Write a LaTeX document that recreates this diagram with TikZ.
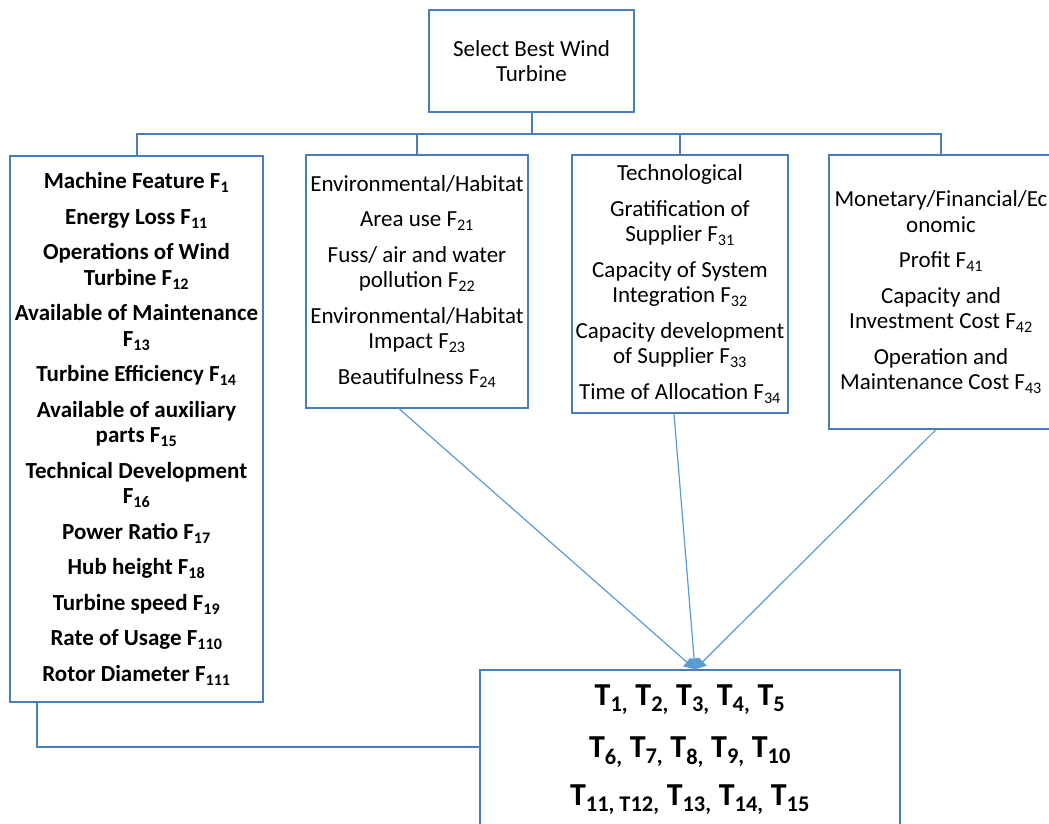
\documentclass[tikz,border=0pt]{standalone}
\usepackage{fontspec}
\setmainfont{Carlito}
\usetikzlibrary{arrows.meta}
\definecolor{boxblue}{HTML}{4A7EBB}
\definecolor{arrblue}{HTML}{5B9BD5}
\begin{document}
\begin{tikzpicture}[x=1pt,y=-1pt,
  box/.style={draw=boxblue, line width=1.3pt, rectangle, align=center, inner sep=1pt,
              font=\fontsize{23}{25.5}\selectfont},
  boldtext/.style={font=\fontsize{23}{25.5}\selectfont\bfseries},
  bigtext/.style={font=\fontsize{32}{48}\selectfont\bfseries},
  bus/.style={draw=boxblue, line width=2pt},
  arr/.style={draw=arrblue, line width=1.2pt, -{Triangle[length=11pt,width=11pt]}}]
\clip (0,0) rectangle (1049,824);
\useasboundingbox (0,0) rectangle (1049,824);

\node[box, minimum width=205pt, minimum height=102pt] (top) at (531.5,61)
  {Select Best Wind\\Turbine};

\node[box, boldtext, minimum width=253pt, minimum height=546pt] (mach) at (136.5,429)
  {Machine Feature F\textsubscript{1}\\[10pt]
   Energy Loss F\textsubscript{11}\\[10pt]
   Operations of Wind\\ Turbine F\textsubscript{12}\\[10pt]
   Available of Maintenance\\ F\textsubscript{13}\\[10pt]
   Turbine Efficiency F\textsubscript{14}\\[10pt]
   Available of auxiliary\\ parts F\textsubscript{15}\\[10pt]
   Technical Development\\ F\textsubscript{16}\\[10pt]
   Power Ratio F\textsubscript{17}\\[10pt]
   Hub height F\textsubscript{18}\\[10pt]
   Turbine speed F\textsubscript{19}\\[10pt]
   Rate of Usage F\textsubscript{110}\\[10pt]
   Rotor Diameter F\textsubscript{111}};

\node[box, minimum width=222pt, minimum height=253pt] (env) at (417,281.5)
  {Environmental/Habitat\\[10pt]
   Area use F\textsubscript{21}\\[10pt]
   Fuss/ air and water\\ pollution F\textsubscript{22}\\[10pt]
   Environmental/Habitat\\ Impact F\textsubscript{23}\\[10pt]
   Beautifulness F\textsubscript{24}};

\node[box, minimum width=216pt, minimum height=258pt] (tech) at (680,284)
  {Technological\\[10pt]
   Gratification of\\ Supplier F\textsubscript{31}\\[10pt]
   Capacity of System\\ Integration F\textsubscript{32}\\[10pt]
   Capacity development\\ of Supplier F\textsubscript{33}\\[10pt]
   Time of Allocation F\textsubscript{34}};

\node[box, minimum width=224pt, minimum height=274pt] (mon) at (941,292)
  {Monetary/Financial/Ec\\ onomic\\[10pt]
   Profit F\textsubscript{41}\\[10pt]
   Capacity and\\ Investment Cost F\textsubscript{42}\\[10pt]
   Operation and\\ Maintenance Cost F\textsubscript{43}};

\node[box, bigtext, minimum width=420pt, minimum height=160pt] (T) at (690,750)
  {T\textsubscript{1,} T\textsubscript{2,} T\textsubscript{3,} T\textsubscript{4,} T\textsubscript{5}\\[4pt]
   T\textsubscript{6,} T\textsubscript{7,} T\textsubscript{8,} T\textsubscript{9,} T\textsubscript{10}\\
   T\textsubscript{11, T12,} T\textsubscript{13,} T\textsubscript{14,} T\textsubscript{15}};

\draw[bus] (top.south) -- ++(0,21) coordinate (b);
\draw[bus] (b) -| (mach.north);
\draw[bus] (b) -| (env.north);
\draw[bus] (b) -| (tech.north);
\draw[bus] (b) -| (mon.north);

\draw[bus] ([xshift=-100pt]mach.south) |- ([yshift=3pt]T.west);

\coordinate (tip) at ([xshift=5pt]T.north);
\draw[arr] ([xshift=-18pt]env.south) -- (tip);
\draw[arr] ([xshift=-6pt]tech.south) -- (tip);
\draw[arr] ([xshift=-5pt]mon.south) -- (tip);
\end{tikzpicture}
\end{document}
